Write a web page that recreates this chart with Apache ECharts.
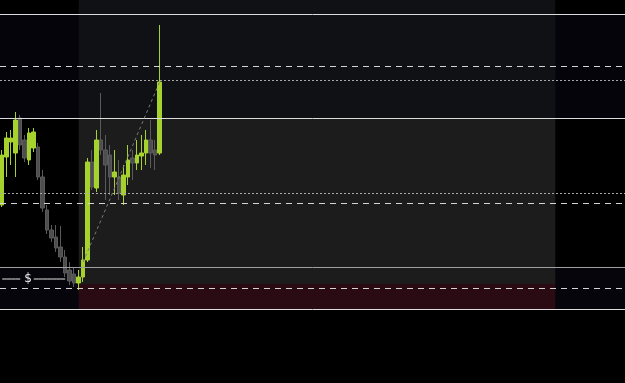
<!DOCTYPE html>
<html><head><meta charset="utf-8">
<script src="https://cdn.jsdelivr.net/npm/echarts@6/dist/echarts.min.js"></script>
<style>html,body{margin:0;padding:0;background:#000;}#c{width:625px;height:383px;}</style>
</head><body><div id="c"></div>
<script>
// category slots (one per bar period)
const slotCount = 139;
const categories = Array.from({length: slotCount}, (_, i) => String(i));

// candle values (arbitrary price units)
const opens  = [178,226,241,230,265,243,223,235,236,206,173,153,146,136,126,113,109,100,106,123,221,195,243,233,228,206,206,188,206,225,220,227,230,243,233,230];
const closes = [228,245,245,263,238,225,250,251,206,175,153,145,135,126,110,102,100,106,123,221,196,243,233,218,206,211,190,208,223,220,228,230,243,230,228,301];
const lows   = [176,206,218,206,233,221,218,231,203,171,149,141,131,121,106, 98, 96, 93,101,121,193,191,228,183,188,188,183,178,198,203,213,213,218,215,213,228];
const highs  = [233,251,253,271,268,248,255,255,240,213,178,158,158,157,133,121,115,113,136,225,233,253,290,248,238,233,223,218,238,233,243,248,253,263,243,358];

// horizontal price levels
const solidLevels  = [369, 265, 116, 74];
const dashedLevels = [317, 180, 95];
const dottedLevels = [303, 190];
const dollarLevel = 104;
const dollarSlots = [0, 1, 2, 3, 4, 7, 8, 9, 10, 11, 12, 13, 14];
const dollarLabelSlot = 4;
const trendStart = [18, 121];
const trendEnd   = [35, 301];

// session range
const sessionStart = 17;
const sessionEnd   = 123;

const candleData = opens.map((o, i) => [o, closes[i], lows[i], highs[i]]);

const lineItems = [];
solidLevels.forEach(v => lineItems.push({name: 's' + v, yAxis: v, lineStyle: {type: 'solid', color: v === 116 ? '#a0a0a0' : '#dcdcdc', width: 1}}));
dashedLevels.forEach(v => lineItems.push({name: 'd' + v, yAxis: v, lineStyle: {type: [6, 5], color: '#d4d4d4', width: 1}}));
dottedLevels.forEach(v => lineItems.push({name: 't' + v, yAxis: v, lineStyle: {type: [2, 2], color: '#a8a8a8', width: 1}}));
lineItems.push([
  {name: 'trend', coord: trendStart, lineStyle: {type: [3, 3], color: '#7a7a7a', width: 1}},
  {coord: trendEnd}
]);

const dollarData = categories.map((c, i) => {
  if (!dollarSlots.includes(i)) return '-';
  if (i === dollarLabelSlot) {
    return {value: dollarLevel, label: {show: true, position: 'right', formatter: '$', color: '#f0f0f0', fontSize: 12, fontFamily: 'DejaVu Sans', distance: 4}};
  }
  return dollarLevel;
});

const areaItems = [
  [{yAxis: 265, itemStyle: {color: '#04040a'}}, {yAxis: 369}],
  [{yAxis: 74, itemStyle: {color: '#05050b'}}, {yAxis: 116}],
  [{xAxis: sessionStart, yAxis: 265, itemStyle: {color: '#101114'}}, {xAxis: sessionEnd, yAxis: 383}],
  [{xAxis: sessionStart, yAxis: 99, itemStyle: {color: '#1c1c1c'}}, {xAxis: sessionEnd, yAxis: 265}],
  [{xAxis: sessionStart, yAxis: 74, itemStyle: {color: '#2a0b13'}}, {xAxis: sessionEnd, yAxis: 99}]
];

const chart = echarts.init(document.getElementById('c'), null, {renderer: 'canvas'});
chart.setOption({
  animation: false,
  backgroundColor: '#000',
  grid: {left: 0, right: 0, top: 0, bottom: 0, show: false},
  xAxis: {type: 'category', data: categories, boundaryGap: true, show: false,
    axisLine: {show: false}, axisTick: {show: false}, splitLine: {show: false}, axisPointer: {show: false}},
  yAxis: {type: 'value', min: 0, max: 383, show: false, splitLine: {show: false}, axisLine: {show: false}},
  series: [
    {
      name: 'price', type: 'candlestick', data: candleData, z: 2, barWidth: 4,
      itemStyle: {color: '#a6d22e', color0: '#4e4e4e', borderColor: '#a6d22e', borderColor0: '#5a5a5a', borderWidth: 1},
      markArea: {silent: true, z: 0, label: {show: false}, itemStyle: {borderWidth: 0}, data: areaItems}
    },
    {
      name: 'levels', type: 'line', data: categories.map(() => '-'), z: 3, silent: true,
      markLine: {silent: true, symbol: ['none', 'none'], label: {show: false}, data: lineItems}
    },
    {
      name: 'dollar', type: 'line', data: dollarData, z: 3, silent: true,
      showSymbol: true, symbol: 'circle', symbolSize: 0, connectNulls: false,
      lineStyle: {type: 'solid', color: '#e6e6e6', width: 1},
      itemStyle: {color: '#e6e6e6'}
    }
  ]
});
</script></body></html>
